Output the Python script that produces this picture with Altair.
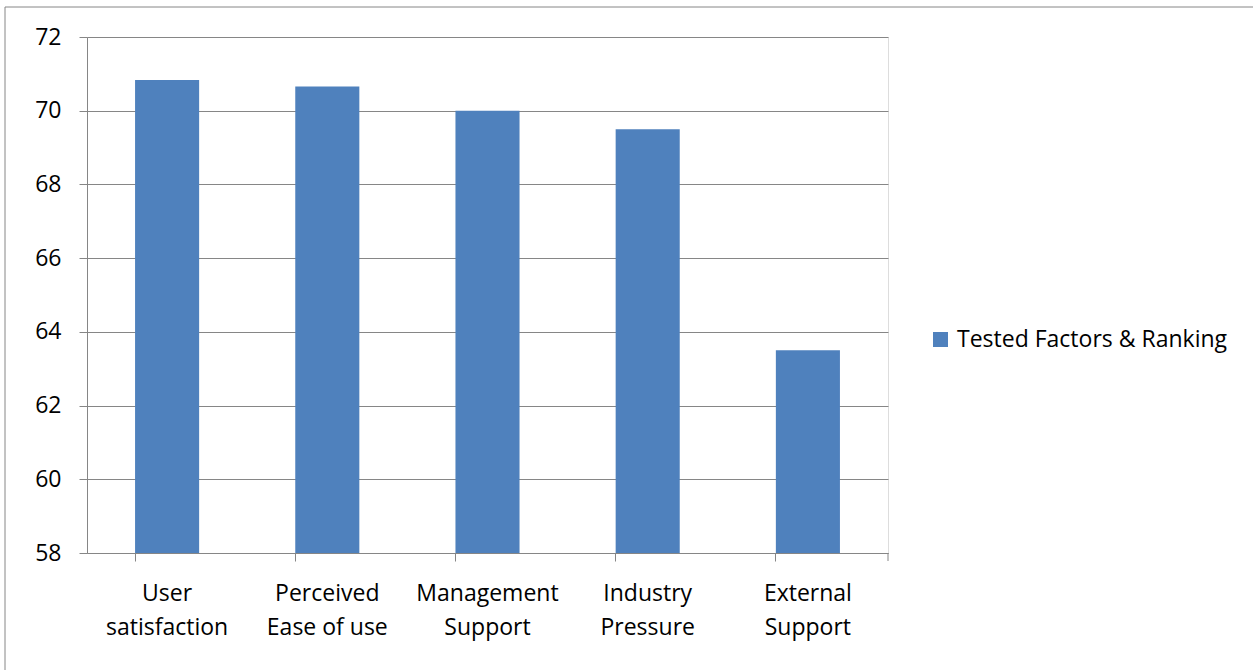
import altair as alt
import pandas as pd

categories = ["User satisfaction", "Perceived Ease of use", "Management Support",
              "Industry Pressure", "External Support"]
values = [70.83, 70.66, 70.0, 69.5, 63.5]
series_name = "Tested Factors & Ranking"
y_ticks = [58, 60, 62, 64, 66, 68, 70, 72]

df = pd.DataFrame({"Factor": categories, "Value": values, "Series": [series_name] * len(categories)})

W, H = 801, 516
FONT = "Open Sans"
FS = 23
GRAY = "#868686"

bars = alt.Chart(df).mark_bar(color="#4F81BD").encode(
    x=alt.X("Factor:N", sort=categories, title=None,
            scale=alt.Scale(paddingInner=0.6, paddingOuter=0.3),
            axis=alt.Axis(bandPosition=0, labelAngle=0,
                          labelExpr="[slice(datum.label, 0, indexof(datum.label, ' ')), slice(datum.label, indexof(datum.label, ' ') + 1)]",
                          labelFont=FONT, labelFontSize=FS, labelColor="black",
                          labelLineHeight=34, labelPadding=21, labelBaseline="top",
                          labelLimit=300,
                          tickSize=8, tickColor=GRAY, domainColor=GRAY, grid=False)),
    y=alt.Y("Value:Q", title=None,
            scale=alt.Scale(domain=[y_ticks[0], y_ticks[-1]], nice=False, zero=False),
            axis=alt.Axis(values=y_ticks, labelFont=FONT, labelFontSize=FS, labelColor="black",
                          labelPadding=18, tickSize=8, tickColor=GRAY, domainColor=GRAY,
                          grid=True, gridColor=GRAY, gridOpacity=1)),
    y2=alt.Y2(datum=y_ticks[0]),
    fill=alt.Fill("Series:N", scale=alt.Scale(range=["#4F81BD"]),
                  legend=alt.Legend(title=None, orient="none", legendX=842, legendY=291,
                                    symbolType="square", symbolSize=225, symbolStrokeWidth=0,
                                    labelFont=FONT, labelFontSize=FS, labelColor="black",
                                    labelOffset=5, labelLimit=400, padding=0)),
)

one = pd.DataFrame({"k": [0]})
end_tick = alt.Chart(one).mark_rule(color=GRAY).encode(
    x=alt.value(W), y=alt.value(H), y2=alt.value(H + 8))
border_left = alt.Chart(one).mark_rule(color=GRAY, clip=False).encode(
    x=alt.value(-82), y=alt.value(-30), y2=alt.value(800))
border_top = alt.Chart(one).mark_rule(color=GRAY, clip=False).encode(
    x=alt.value(-82), x2=alt.value(1400), y=alt.value(-30))

chart = alt.layer(bars, end_tick, border_left, border_top).properties(
    width=W, height=H,
    autosize=alt.AutoSizeParams(type="none"),
    padding={"left": 87, "top": 37, "right": 365, "bottom": 117},
).configure_view(stroke=None).configure(background="white")

chart.save("out.html", embed_options={"renderer": "svg", "actions": False})
